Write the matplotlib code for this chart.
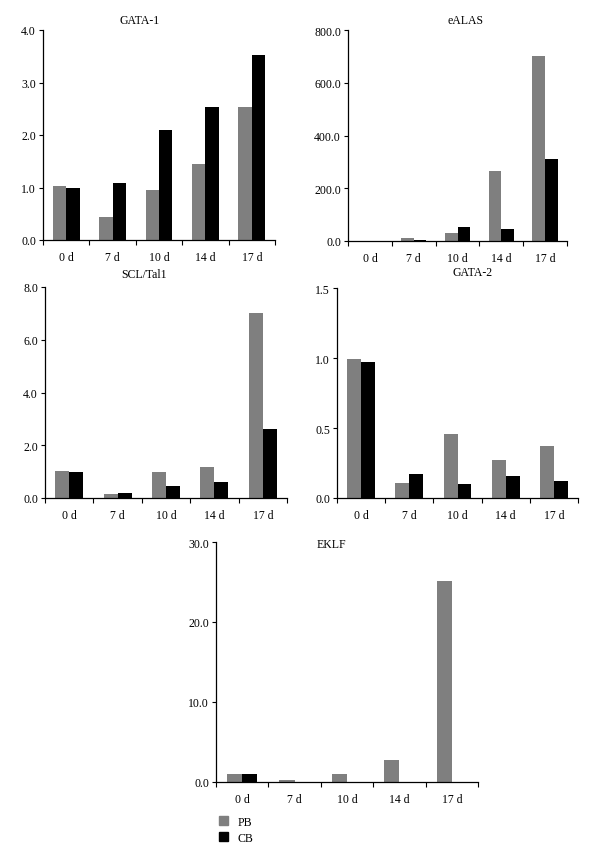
import numpy as np
import matplotlib
matplotlib.use("Agg")
import matplotlib.pyplot as plt
from matplotlib.patches import Patch
from matplotlib.ticker import FormatStrFormatter

plt.rcParams["font.family"] = ["Liberation Serif", "DejaVu Serif"]
plt.rcParams["font.size"] = 8.5

days = ["0 d", "7 d", "10 d", "14 d", "17 d"]

gata1_pb = [1.02, 0.44, 0.96, 1.44, 2.54]
gata1_cb = [1.00, 1.08, 2.10, 2.54, 3.53]

ealas_pb = [1.0, 10.0, 32.0, 267.0, 702.0]
ealas_cb = [1.0, 3.0, 53.0, 45.0, 310.0]

scl_pb = [1.03, 0.17, 1.00, 1.18, 7.00]
scl_cb = [1.00, 0.20, 0.44, 0.62, 2.62]

gata2_pb = [0.99, 0.11, 0.46, 0.27, 0.37]
gata2_cb = [0.97, 0.17, 0.10, 0.16, 0.12]

eklf_pb = [1.0, 0.3, 1.0, 2.8, 25.1]
eklf_cb = [1.0, 0.0, 0.0, 0.0, 0.0]

GRAY = "#7f7f7f"
W, H = 600, 862

# (title, pb, cb, ymax, ystep, box px: left, top, right, bottom, title px: x, y)
panels = [
    ("GATA-1", gata1_pb, gata1_cb, 4.0, 1.0, (43, 31, 275, 241), (140, 27)),
    ("eALAS", ealas_pb, ealas_cb, 800.0, 200.0, (348, 31, 567, 242), (466, 27)),
    ("SCL/Tal1", scl_pb, scl_cb, 8.0, 2.0, (45, 288, 287, 499), (144, 281)),
    ("GATA-2", gata2_pb, gata2_cb, 1.5, 0.5, (337, 289, 578, 499), (473, 279)),
    ("EKLF", eklf_pb, eklf_cb, 30.0, 10.0, (216, 543, 478, 783), (331, 551)),
]

fig = plt.figure(figsize=(W / 100, H / 100), dpi=100)

bw = 0.29
for title, pb, cb, ymax, ystep, box, tpos in panels:
    l, t, r, b = box
    ax = fig.add_axes([l / W, 1 - b / H, (r - l) / W, (b - t) / H])
    x = np.arange(len(days)) + 0.5
    ax.bar(x - bw / 2, pb, bw, color=GRAY, edgecolor="none")
    ax.bar(x + bw / 2, cb, bw, color="black", edgecolor="none")
    ax.set_xlim(0, len(days))
    ax.set_ylim(0, ymax)
    ax.set_yticks(np.arange(0, ymax + ystep / 2, ystep))
    ax.yaxis.set_major_formatter(FormatStrFormatter("%.1f"))
    ax.set_xticks(x)
    ax.set_xticklabels(days)
    ax.set_xticks(np.arange(len(days) + 1), minor=True)
    ax.tick_params(axis="x", which="major", length=0, pad=8)
    ax.tick_params(axis="x", which="minor", length=3.5, direction="out", width=0.8)
    ax.tick_params(axis="y", length=3, direction="out", width=0.8, pad=2)
    for s in ("top", "right"):
        ax.spines[s].set_visible(False)
    for s in ("left", "bottom"):
        ax.spines[s].set_linewidth(0.9)
    fig.text(tpos[0] / W, 1 - tpos[1] / H, title, ha="center", va="bottom")

handles = [Patch(color=GRAY, label="PB"), Patch(color="black", label="CB")]
fig.legend(handles=handles, loc="upper left", bbox_to_anchor=(208 / W, 1 - 806 / H),
           frameon=False, handlelength=0.8, handleheight=0.8, handletextpad=0.8,
           labelspacing=0.35)

fig.savefig("out.png", dpi=100)
